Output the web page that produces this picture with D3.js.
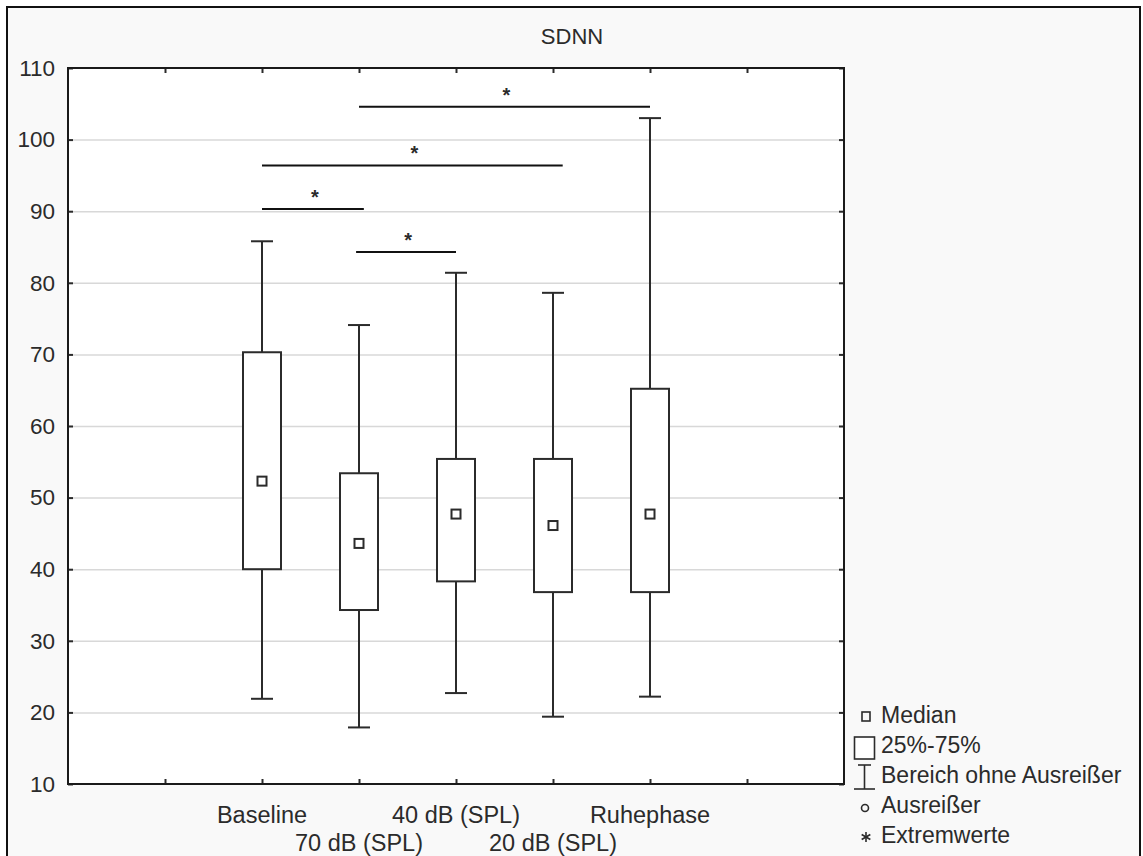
<!DOCTYPE html>
<html>
<head>
<meta charset="utf-8">
<script src="https://cdn.jsdelivr.net/npm/d3@7"></script>
<style>
  html, body { margin: 0; padding: 0; background: #ffffff; }
  svg { display: block; }
  text { font-family: "Liberation Sans", Arial, sans-serif; fill: #2b2b2b; }
</style>
</head>
<body>
<svg id="chart" width="1143" height="856"></svg>
<script>
// ---- data ----
const title = "SDNN";
const categories = ["Baseline", "70 dB (SPL)", "40 dB (SPL)", "20 dB (SPL)", "Ruhephase"];
const whiskerLow  = [21.9, 17.9, 22.7, 19.4, 22.2];
const q1          = [40.0, 34.3, 38.3, 36.8, 36.8];
const median      = [52.3, 43.6, 47.7, 46.1, 47.7];
const q3          = [70.3, 53.4, 55.4, 55.4, 65.2];
const whiskerHigh = [85.8, 74.1, 81.4, 78.6, 103.0];
const yTicks = [10, 20, 30, 40, 50, 60, 70, 80, 90, 100, 110];
const xSlots = [1, 2, 3, 4, 5, 6, 7];        // tick slots on the category axis
const categorySlot = [2, 3, 4, 5, 6];         // slot of each category
// significance brackets (slot from, slot to, level)
const sigFrom  = [3, 2, 2, 2.97];
const sigTo    = [6, 5.1, 3.05, 4];
const sigLevel = [104.6, 96.4, 90.3, 84.3];
const sigLabel = ["*", "*", "*", "*"];
const legendLabels = ["Median", "25%-75%", "Bereich ohne Ausreißer", "Ausreißer", "Extremwerte"];

// ---- layout ----
const svg = d3.select("#chart");
const L = 68, R = 844, T = 68, B = 784;
const ink = "#2b2b2b";

const x = d3.scaleLinear().domain([0, 8]).range([L, R]);
const y = d3.scaleLinear().domain([10, 110]).range([B, T]);

// outer frame (bottom edge runs off the picture)
svg.append("rect").attr("x", 7).attr("y", 7).attr("width", 1133).attr("height", 860)
  .attr("fill", "#f9f9f9").attr("stroke", "#111").attr("stroke-width", 2);

// plot background
svg.append("rect").attr("x", L).attr("y", T).attr("width", R - L).attr("height", B - T)
  .attr("fill", "#ffffff");

// gridlines
svg.append("g").attr("transform", `translate(${L},0)`)
  .call(d3.axisLeft(y).tickValues(yTicks.filter(v => v > 10 && v < 110)).tickSize(-(R - L)).tickFormat(""))
  .call(g => g.select(".domain").remove())
  .call(g => g.selectAll("line").attr("stroke", "#d8d8d8").attr("stroke-width", 1.5));

// y axis (left) with inward ticks
svg.append("g").attr("transform", `translate(${L},0)`)
  .call(d3.axisLeft(y).tickValues(yTicks).tickSize(-5).tickPadding(13).tickFormat(d3.format("d")))
  .call(g => g.select(".domain").remove())
  .call(g => g.selectAll("line").attr("stroke", ink).attr("stroke-width", 2))
  .call(g => g.selectAll("text").attr("font-size", 22.5).attr("fill", ink)
      .attr("font-family", "'Liberation Sans', Arial, sans-serif"));

// right axis ticks inward
svg.append("g").attr("transform", `translate(${R},0)`)
  .call(d3.axisRight(y).tickValues(yTicks).tickSize(-5).tickFormat(""))
  .call(g => g.select(".domain").remove())
  .call(g => g.selectAll("line").attr("stroke", ink).attr("stroke-width", 2));

// top & bottom ticks inward
svg.append("g").attr("transform", `translate(0,${T})`)
  .call(d3.axisTop(x).tickValues(xSlots).tickSize(-5).tickFormat(""))
  .call(g => g.select(".domain").remove())
  .call(g => g.selectAll("line").attr("stroke", ink).attr("stroke-width", 2));
svg.append("g").attr("transform", `translate(0,${B})`)
  .call(d3.axisBottom(x).tickValues(xSlots).tickSize(-5).tickFormat(""))
  .call(g => g.select(".domain").remove())
  .call(g => g.selectAll("line").attr("stroke", ink).attr("stroke-width", 2));

// plot border
svg.append("rect").attr("x", L).attr("y", T).attr("width", R - L).attr("height", B - T)
  .attr("fill", "none").attr("stroke", "#1a1a1a").attr("stroke-width", 2);

// category labels (staggered)
svg.append("g").selectAll("text").data(categories).join("text")
  .attr("x", (d, i) => x(categorySlot[i]))
  .attr("y", (d, i) => i % 2 === 0 ? 823 : 851)
  .attr("text-anchor", "middle")
  .attr("font-size", 23.5)
  .text(d => d);

// title
svg.append("text").attr("x", 572).attr("y", 44).attr("text-anchor", "middle")
  .attr("font-size", 22).text(title);

// boxes
const boxW = 38, capW = 22, medS = 9;
const gBox = svg.append("g").attr("stroke", ink).attr("stroke-width", 2);
categories.forEach((c, i) => {
  const cx = x(categorySlot[i]);
  gBox.append("line").attr("x1", cx).attr("x2", cx).attr("y1", y(whiskerHigh[i])).attr("y2", y(q3[i]));
  gBox.append("line").attr("x1", cx).attr("x2", cx).attr("y1", y(q1[i])).attr("y2", y(whiskerLow[i]));
  gBox.append("line").attr("x1", cx - capW / 2).attr("x2", cx + capW / 2).attr("y1", y(whiskerHigh[i])).attr("y2", y(whiskerHigh[i]));
  gBox.append("line").attr("x1", cx - capW / 2).attr("x2", cx + capW / 2).attr("y1", y(whiskerLow[i])).attr("y2", y(whiskerLow[i]));
  gBox.append("rect").attr("x", cx - boxW / 2).attr("y", y(q3[i])).attr("width", boxW)
    .attr("height", y(q1[i]) - y(q3[i])).attr("fill", "#ffffff");
  gBox.append("rect").attr("x", cx - medS / 2).attr("y", y(median[i]) - medS / 2)
    .attr("width", medS).attr("height", medS).attr("fill", "#ffffff");
});

// significance brackets
const gSig = svg.append("g");
sigLevel.forEach((lv, i) => {
  gSig.append("line").attr("x1", x(sigFrom[i])).attr("x2", x(sigTo[i]))
    .attr("y1", y(lv)).attr("y2", y(lv)).attr("stroke", "#111").attr("stroke-width", 2);
  gSig.append("text").attr("x", (x(sigFrom[i]) + x(sigTo[i])) / 2 + 2).attr("y", y(lv) - 5)
    .attr("text-anchor", "middle").attr("font-size", 20).attr("font-weight", "bold")
    .attr("fill", "#111").text(sigLabel[i]);
});

// legend
const lt = 881;
const ly = [723, 753, 783, 813, 843];
const gL = svg.append("g").attr("stroke", ink).attr("stroke-width", 1.6).attr("fill", "none");
// median square
gL.append("rect").attr("x", 862).attr("y", 712).attr("width", 8).attr("height", 9);
// box
gL.append("rect").attr("x", 854.5).attr("y", 737).attr("width", 20).attr("height", 22).attr("fill", "#fff");
// whisker I
gL.append("line").attr("x1", 864.5).attr("x2", 864.5).attr("y1", 765).attr("y2", 789);
gL.append("line").attr("x1", 858).attr("x2", 871).attr("y1", 765).attr("y2", 765);
gL.append("line").attr("x1", 854).attr("x2", 875).attr("y1", 789).attr("y2", 789);
// circle
gL.append("circle").attr("cx", 865).attr("cy", 808).attr("r", 3.5);
// asterisk (6 spokes)
[0, 60, 120].forEach(a => {
  const r = 5, rad = a * Math.PI / 180;
  gL.append("line").attr("x1", 866 - r * Math.sin(rad)).attr("x2", 866 + r * Math.sin(rad))
    .attr("y1", 837 - r * Math.cos(rad)).attr("y2", 837 + r * Math.cos(rad));
});
svg.append("g").selectAll("text").data(legendLabels).join("text")
  .attr("x", lt).attr("y", (d, i) => ly[i]).attr("font-size", 23).text(d => d);
</script>
</body>
</html>
